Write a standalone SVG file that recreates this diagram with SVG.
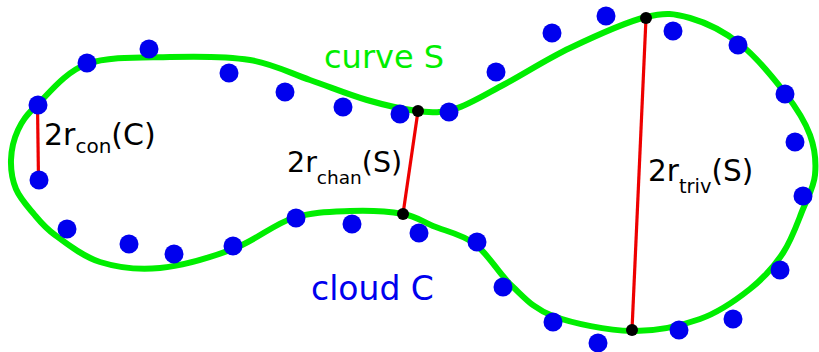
<svg xmlns="http://www.w3.org/2000/svg" width="819" height="352" viewBox="0 0 819 352">
<style>
.curve{fill:none;stroke:#00ee00;stroke-width:6;stroke-linejoin:round}
.dot{fill:#0000ee}
.end{fill:#000}
.seg{stroke:#ee0000;stroke-width:3.2;fill:none}
.lbl{font-family:"DejaVu Sans",Verdana,sans-serif}
</style>
<rect width="819" height="352" fill="#fff"/>
<g id="curve-S">
<path class="curve" d="M87,64 C109.2,56 142.8,57.7 170,57 C197.2,56.3 226.7,56.2 250,60 C273.3,63.8 290.5,73.3 310,80 C329.5,86.7 349,94.8 367,100 C385,105.2 403.3,109.5 418,111 C432.7,112.5 440.5,113.5 455,109 C469.5,104.5 485.8,94.2 505,84 C524.2,73.8 546.5,59.2 570,48 C593.5,36.8 626,22 646,17 C666,12 674.3,13.5 690,18 C705.7,22.5 724.2,31.5 740,44 C755.8,56.5 773.3,77.8 785,93 C796.7,108.2 805,121.3 810,135 C815,148.7 816.2,162.7 815,175 C813.8,187.3 808.3,196 803,209 C797.7,222 791.8,239.7 783,253 C774.2,266.3 763.8,278 750,289 C736.2,300 719.7,312 700,319 C680.3,326 656.5,331.5 632,331 C607.5,330.5 573,323.5 553,316 C533,308.5 525,298 512,286 C499,274 488.2,254 475,244 C461.8,234 445,231 433,226 C421,221 416.8,216.5 403,214 C389.2,211.5 368.3,210.3 350,211 C331.7,211.7 312.5,211.7 293,218 C273.5,224.3 255.2,240.7 233,249 C210.8,257.3 182.2,265.8 160,268 C137.8,270.2 117.5,267.5 100,262 C82.5,256.5 66.2,243.2 55,235 C43.8,226.8 39.5,220.7 33,213 C26.5,205.3 19.7,197.8 16,189 C12.3,180.2 10.7,169.8 11,160 C11.3,150.2 13.7,139.2 18,130 C22.3,120.8 25.5,116 37,105 C48.5,94 64.8,72 87,64 Z"/>
</g>
<g id="cloud-C">
<circle class="dot" cx="87" cy="63" r="9.5"/>
<circle class="dot" cx="149" cy="49" r="9.5"/>
<circle class="dot" cx="229" cy="73" r="9.5"/>
<circle class="dot" cx="285" cy="92" r="9.5"/>
<circle class="dot" cx="343" cy="107" r="9.5"/>
<circle class="dot" cx="400" cy="114" r="9.5"/>
<circle class="dot" cx="449" cy="112" r="9.5"/>
<circle class="dot" cx="496" cy="72" r="9.5"/>
<circle class="dot" cx="552" cy="33" r="9.5"/>
<circle class="dot" cx="606" cy="16" r="9.5"/>
<circle class="dot" cx="673" cy="31" r="9.5"/>
<circle class="dot" cx="738" cy="45" r="9.5"/>
<circle class="dot" cx="785" cy="94" r="9.5"/>
<circle class="dot" cx="795" cy="142" r="9.5"/>
<circle class="dot" cx="803" cy="196" r="9.5"/>
<circle class="dot" cx="780" cy="270" r="9.5"/>
<circle class="dot" cx="733" cy="319" r="9.5"/>
<circle class="dot" cx="679" cy="330" r="9.5"/>
<circle class="dot" cx="598" cy="343" r="9.5"/>
<circle class="dot" cx="553" cy="322" r="9.5"/>
<circle class="dot" cx="503" cy="287" r="9.5"/>
<circle class="dot" cx="477" cy="242" r="9.5"/>
<circle class="dot" cx="419" cy="233" r="9.5"/>
<circle class="dot" cx="352" cy="224" r="9.5"/>
<circle class="dot" cx="296" cy="218" r="9.5"/>
<circle class="dot" cx="233" cy="246" r="9.5"/>
<circle class="dot" cx="174" cy="254" r="9.5"/>
<circle class="dot" cx="129" cy="244" r="9.5"/>
<circle class="dot" cx="67" cy="229" r="9.5"/>
</g>
<g id="connectors">
<line class="seg" x1="37.5" y1="105" x2="38.5" y2="180"/>
<line class="seg" x1="418" y1="111" x2="403" y2="214"/>
<line class="seg" x1="646" y1="18" x2="632" y2="330"/>
</g>
<g id="con-endpoints">
<circle class="dot" cx="38" cy="105" r="9.5"/>
<circle class="dot" cx="39" cy="180" r="9.5"/>
</g>
<g id="chan-endpoints">
<circle class="end" cx="418" cy="111" r="6"/>
<circle class="end" cx="403" cy="214" r="6"/>
</g>
<g id="triv-endpoints">
<circle class="end" cx="646" cy="18" r="6"/>
<circle class="end" cx="632" cy="330" r="6"/>
</g>
<g id="labels" class="lbl">
<text x="324" y="68" font-size="32" fill="#00ee00">curve S</text>
<text x="311" y="300" font-size="33" fill="#0000ee">cloud C</text>
<text x="44" y="145" font-size="30" fill="#000">2r<tspan y="153" font-size="20">con</tspan><tspan y="145">(C)</tspan></text>
<text x="287" y="172" font-size="28.5" fill="#000">2r<tspan y="184" font-size="18.5">chan</tspan><tspan y="172">(S)</tspan></text>
<text x="648" y="181" font-size="29.5" fill="#000">2r<tspan y="193" font-size="19.5">triv</tspan><tspan y="181">(S)</tspan></text>
</g>
</svg>
